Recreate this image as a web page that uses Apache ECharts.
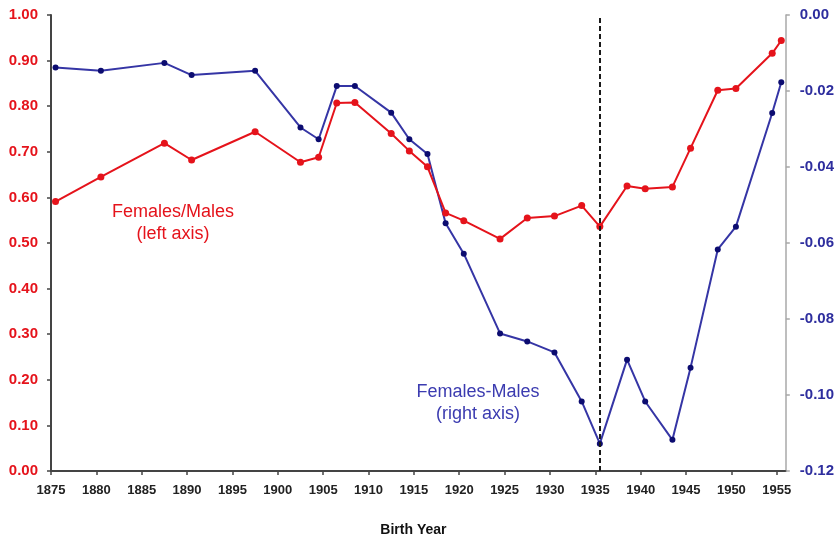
<!DOCTYPE html>
<html>
<head>
<meta charset="utf-8">
<script src="https://cdn.jsdelivr.net/npm/echarts@6/dist/echarts.min.js"></script>
<style>
  html, body { margin: 0; padding: 0; background: #fff; }
  #chart { width: 837px; height: 542px; }
</style>
</head>
<body>
<div id="chart"></div>
<script>
// Birth-year cohorts (mid-year positions)
const birthYears = [1875.5, 1880.5, 1887.5, 1890.5, 1897.5, 1902.5, 1904.5, 1906.5, 1908.5,
  1912.5, 1914.5, 1916.5, 1918.5, 1920.5, 1924.5, 1927.5, 1930.5, 1933.5, 1935.5,
  1938.5, 1940.5, 1943.5, 1945.5, 1948.5, 1950.5, 1954.5, 1955.5];

// Ratio of females to males (left axis)
const ratioFM = [0.591, 0.645, 0.719, 0.682, 0.744, 0.677, 0.688, 0.807, 0.808,
  0.740, 0.702, 0.667, 0.566, 0.549, 0.509, 0.555, 0.559, 0.582, 0.536,
  0.625, 0.619, 0.623, 0.708, 0.835, 0.839, 0.916, 0.944];

// Difference females minus males (right axis)
const diffFM = [-0.0138, -0.0147, -0.0126, -0.0158, -0.0147, -0.0296, -0.0327, -0.0187, -0.0187,
  -0.0257, -0.0327, -0.0366, -0.0548, -0.0628, -0.0838, -0.0859, -0.0888, -0.1017, -0.1128,
  -0.0907, -0.1017, -0.1118, -0.0928, -0.0617, -0.0557, -0.0258, -0.0177];

const cutoffYear = 1935.5;

const RED = '#e5131b';
const NAVY = '#2e2e9e';
const FONT = 'Liberation Sans, Arial, sans-serif';

const chart = echarts.init(document.getElementById('chart'), null, { renderer: 'canvas' });

chart.setOption({
  animation: false,
  backgroundColor: '#ffffff',
  grid: { left: 51, right: 50, top: 15, bottom: 65, containLabel: false },
  xAxis: {
    type: 'value',
    min: 1875,
    max: 1956,
    interval: 5,
    name: 'Birth Year',
    nameLocation: 'middle',
    nameGap: 52,
    nameTextStyle: { fontFamily: FONT, fontSize: 14, fontWeight: 'bold', color: '#111', padding: [0, 10, 0, 0] },
    axisLine: { show: true, onZero: false, lineStyle: { color: '#444', width: 2 } },
    axisTick: { show: true, length: 4, lineStyle: { color: '#444', width: 1.5 } },
    axisLabel: {
      showMaxLabel: false,
      margin: 13,
      formatter: v => String(v),
      fontFamily: FONT, fontSize: 13, fontWeight: 'bold', color: '#222'
    },
    splitLine: { show: false }
  },
  yAxis: [
    {
      type: 'value',
      min: 0, max: 1, interval: 0.1,
      position: 'left',
      axisLine: { show: true, lineStyle: { color: '#444', width: 2 } },
      axisTick: { show: true, length: 4, lineStyle: { color: '#444', width: 1.5 } },
      axisLabel: {
        margin: 13,
        formatter: v => v.toFixed(2),
        fontFamily: FONT, fontSize: 15, fontWeight: 'bold', color: RED
      },
      splitLine: { show: false }
    },
    {
      type: 'value',
      min: -0.12, max: 0, interval: 0.02,
      position: 'right',
      axisLine: { show: true, lineStyle: { color: '#a8a8a8', width: 1.5 } },
      axisTick: { show: true, length: 4, lineStyle: { color: '#a8a8a8', width: 1.5 } },
      axisLabel: {
        margin: 14,
        formatter: v => v.toFixed(2),
        fontFamily: FONT, fontSize: 15, fontWeight: 'bold', color: NAVY
      },
      splitLine: { show: false }
    }
  ],
  series: [
    {
      name: 'Females-Males',
      type: 'line',
      yAxisIndex: 1,
      data: birthYears.map((y, i) => [y, diffFM[i]]),
      symbol: 'circle',
      symbolSize: 6,
      lineStyle: { color: '#3535a5', width: 2 },
      itemStyle: { color: '#0c0c70' },
      z: 3
    },
    {
      name: 'Females/Males',
      type: 'line',
      yAxisIndex: 0,
      data: birthYears.map((y, i) => [y, ratioFM[i]]),
      symbol: 'circle',
      symbolSize: 7,
      lineStyle: { color: RED, width: 2 },
      itemStyle: { color: RED },
      z: 4,
      markLine: {
        silent: true,
        symbol: 'none',
        label: { show: false },
        lineStyle: { color: '#1a1a1a', width: 2, type: [5, 3] },
        data: [{ xAxis: cutoffYear }],
        z: 5
      }
    }
  ],
  graphic: [
    {
      type: 'text',
      x: 173, y: 201,
      style: {
        text: 'Females/Males\n(left axis)',
        fill: RED, font: '18px ' + FONT, lineHeight: 22,
        align: 'center', verticalAlign: 'top'
      }
    },
    {
      type: 'text',
      x: 478, y: 381,
      style: {
        text: 'Females-Males\n(right axis)',
        fill: '#3b3bb0', font: '18px ' + FONT, lineHeight: 22,
        align: 'center', verticalAlign: 'top'
      }
    }
  ]
});
</script>
</body>
</html>
